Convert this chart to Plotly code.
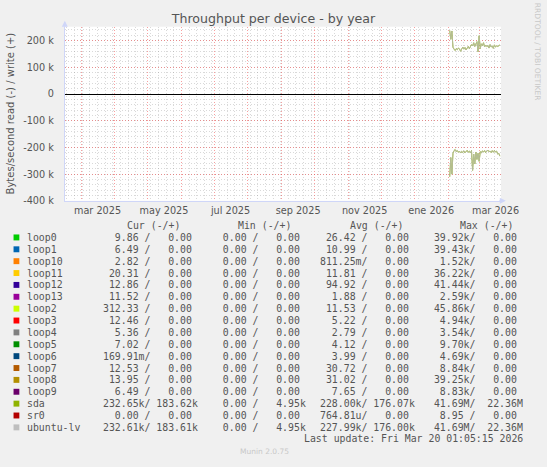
import plotly.graph_objects as go
import pandas as pd

W, H = 547, 467

# daily samples shown on the graph (sda and ubuntu-lv overlap almost exactly)
start_day = "2026-02-02"
write_k = [238, 205, 236, 175, 168, 163, 170, 166, 172, 169, 160, 171, 176, 168, 174, 165,
           172, 178, 170, 176, 185, 180, 192, 178, 186, 196, 158, 218, 170, 188, 181, 192,
           176, 183, 178, 181, 172, 185, 176, 180, 171, 184, 176, 180, 178, 182, 183.6]
read_k = [310, 238, 300, 222, 212, 208, 216, 212, 218, 214, 221, 215, 219, 213, 220, 216,
          211, 218, 214, 221, 212, 286, 225, 262, 218, 245, 222, 252, 216, 220, 213, 217,
          212, 219, 215, 210, 216, 214, 219, 212, 218, 211, 217, 214, 225, 222, 232.65]

# legend table
names = ["loop0", "loop1", "loop10", "loop11", "loop12", "loop13", "loop2", "loop3", "loop4",
         "loop5", "loop6", "loop7", "loop8", "loop9", "sda", "sr0", "ubuntu-lv"]
colors = ["#00CC00", "#0066B3", "#FF8000", "#FFCC00", "#330099", "#990099", "#CCFF00", "#FF0000",
          "#808080", "#008F00", "#00487D", "#B35A00", "#B38F00", "#6B006B", "#8FB300", "#B30000",
          "#BEBEBE"]
cur_read = ["9.86", "6.49", "2.82", "20.31", "12.86", "11.52", "312.33", "12.46", "5.36", "7.02",
            "169.91m", "12.53", "13.95", "6.49", "232.65k", "0.00", "232.61k"]
cur_write = ["0.00"] * 14 + ["183.62k", "0.00", "183.61k"]
min_read = ["0.00"] * 17
min_write = ["0.00"] * 14 + ["4.95k", "0.00", "4.95k"]
avg_read = ["26.42", "10.99", "811.25m", "11.81", "94.92", "1.88", "11.53", "5.22", "2.79", "4.12",
            "3.99", "30.72", "31.02", "7.65", "228.00k", "764.81u", "227.99k"]
avg_write = ["0.00"] * 14 + ["176.07k", "0.00", "176.00k"]
max_read = ["39.92k", "39.43k", "1.52k", "36.22k", "41.44k", "2.59k", "45.86k", "4.94k", "3.54k",
            "9.70k", "4.69k", "8.84k", "39.25k", "8.83k", "41.69M", "8.95", "41.69M"]
max_write = ["0.00"] * 14 + ["22.36M", "0.00", "22.36M"]
headers = ["Cur (-/+)", "Min (-/+)", "Avg (-/+)", "Max (-/+)"]

month_labels = ["mar 2025", "may 2025", "jul 2025", "sep 2025", "nov 2025", "ene 2026", "mar 2026"]
month_label_pos = ["2025-03-16", "2025-05-16", "2025-07-16", "2025-09-16", "2025-11-16",
                   "2026-01-16", "2026-03-16"]
y_ticks = [-400000, -300000, -200000, -100000, 0, 100000, 200000]
y_labels = ["-400 k", "-300 k", "-200 k", "-100 k", "0", "100 k", "200 k"]

days = pd.date_range(start_day, periods=len(write_k), freq="D")
write = [v * 1000 for v in write_k]
read = [-v * 1000 for v in read_k]


def px(x):
    return x / W


def py(y):
    return 1 - y / H


def cell(a, b):
    def split(s):
        return (s[:-1], s[-1]) if s[-1].isalpha() else (s, " ")
    n1, s1 = split(a)
    n2, s2 = split(b)
    return f"{n1:>6}{s1}/ {n2:>6}{s2}"


fig = go.Figure()
for vals in (read, write):
    fig.add_trace(go.Scatter(x=days, y=vals, mode="lines", line=dict(color="#8FB300", width=1),
                             showlegend=False, hoverinfo="skip"))
    fig.add_trace(go.Scatter(x=days, y=vals, mode="lines", line=dict(color="#BEBEBE", width=1),
                             opacity=0.8, showlegend=False, hoverinfo="skip"))

red = "rgba(240,80,80,0.55)"
grey = "rgba(120,120,120,0.28)"
dash = "1px,2px"
font = "DejaVu Sans"
mono = "DejaVu Sans Mono"
fc = "#555555"

fig.update_layout(
    width=W, height=H,
    margin=dict(l=0, r=0, t=0, b=0),
    paper_bgcolor="#F0F0F0", plot_bgcolor="#FFFFFF",
    title=dict(text="Throughput per device - by year", x=0.5, xanchor="center",
               y=py(19), yanchor="middle", yref="container",
               font=dict(family=font, size=12.6, color=fc)),
    xaxis=dict(domain=[px(67), px(518)], range=["2025-02-14", "2026-03-21"],
               tick0="2025-03-01", dtick="M1", showticklabels=False, ticks="",
               showgrid=True, gridcolor=red, griddash=dash, gridwidth=1,
               minor=dict(tick0="2025-03-02", dtick=7 * 86400000, showgrid=True,
                          gridcolor=grey, griddash=dash, gridwidth=1),
               showline=True, linecolor="#CFD6F8", linewidth=1, zeroline=False),
    xaxis2=dict(overlaying="x", matches="x", side="bottom", anchor="y",
                tickmode="array", tickvals=month_label_pos, ticktext=month_labels,
                showgrid=False, ticks="", showline=False, zeroline=False,
                tickfont=dict(family=font, size=9.7, color=fc), ticklabelstandoff=2),
    yaxis=dict(domain=[py(203), py(27)], range=[-400000, 252000],
               tickmode="array", tickvals=y_ticks, ticktext=y_labels,
               tickfont=dict(family=font, size=9.7, color=fc), ticks="", ticklabelstandoff=8,
               showgrid=True, gridcolor=red, griddash=dash, gridwidth=1,
               minor=dict(dtick=20000, showgrid=True, gridcolor=grey, griddash=dash, gridwidth=1),
               zeroline=True, zerolinecolor="#000000", zerolinewidth=1.2,
               showline=True, linecolor="#CFD6F8", linewidth=1),
)
fig.add_trace(go.Scatter(x=[days[0]], y=[None], xaxis="x2", yaxis="y", showlegend=False,
                         hoverinfo="skip"))

ann = []
ann.append(dict(text="Bytes/second read (-) / write (+)", x=px(11), y=py(115), textangle=-90,
                font=dict(family=font, size=10, color=fc)))
ann.append(dict(text="RRDTOOL / TOBI OETIKER", x=px(556), y=py(53), textangle=90,
                font=dict(family=font, size=7.6, color="#C8C8C8")))
ann.append(dict(text="Munin 2.0.75", x=px(273), y=py(456),
                font=dict(family=font, size=7.5, color="#C8C8C8")))
ann.append(dict(text="Last update: Fri Mar 20 01:05:15 2026", x=px(312), y=py(443.5),
                xanchor="left", font=dict(family=mono, size=9.85, color=fc)))
for h, hx in zip(headers, [129.4, 243.7, 359.4, 473.8]):
    ann.append(dict(text=h, x=px(hx), y=py(227.5), xanchor="left",
                    font=dict(family=mono, size=9.85, color=fc)))

shapes = []
col_x = [104.2, 216.3, 328.4, 440.5]
for i, name in enumerate(names):
    ry = 240 + 12 * i
    shapes.append(dict(type="rect", xref="paper", yref="paper", x0=px(14), x1=px(20),
                       y0=py(ry + 3), y1=py(ry - 3), fillcolor=colors[i], line=dict(width=0)))
    ann.append(dict(text=name, x=px(26.2), y=py(ry), xanchor="left",
                    font=dict(family=mono, size=9.85, color=fc)))
    cells = [cell(cur_read[i], cur_write[i]), cell(min_read[i], min_write[i]),
             cell(avg_read[i], avg_write[i]), cell(max_read[i], max_write[i])]
    for c, cx in zip(cells, col_x):
        ann.append(dict(text=c, x=px(cx), y=py(ry), xanchor="left",
                        font=dict(family=mono, size=9.85, color=fc)))

# axis arrows
ann.append(dict(text="", x=px(67), y=py(21), ax=0, ay=8, showarrow=True, arrowhead=2,
                arrowsize=1.2, arrowwidth=1, arrowcolor="#CFD6F8"))
ann.append(dict(text="", x=px(523), y=py(203), ax=-8, ay=0, showarrow=True, arrowhead=2,
                arrowsize=1.2, arrowwidth=1, arrowcolor="#CFD6F8"))

for a in ann:
    a.setdefault("xref", "paper")
    a.setdefault("yref", "paper")
    a.setdefault("showarrow", False)
    a.setdefault("xanchor", "center")
    a.setdefault("yanchor", "middle")
fig.update_layout(annotations=ann, shapes=shapes)

# drop the default page margin so the figure sits at the window corner
fig.write_html("out.html", config={"displayModeBar": False},
               post_script="document.body.style.margin = '0px';")
